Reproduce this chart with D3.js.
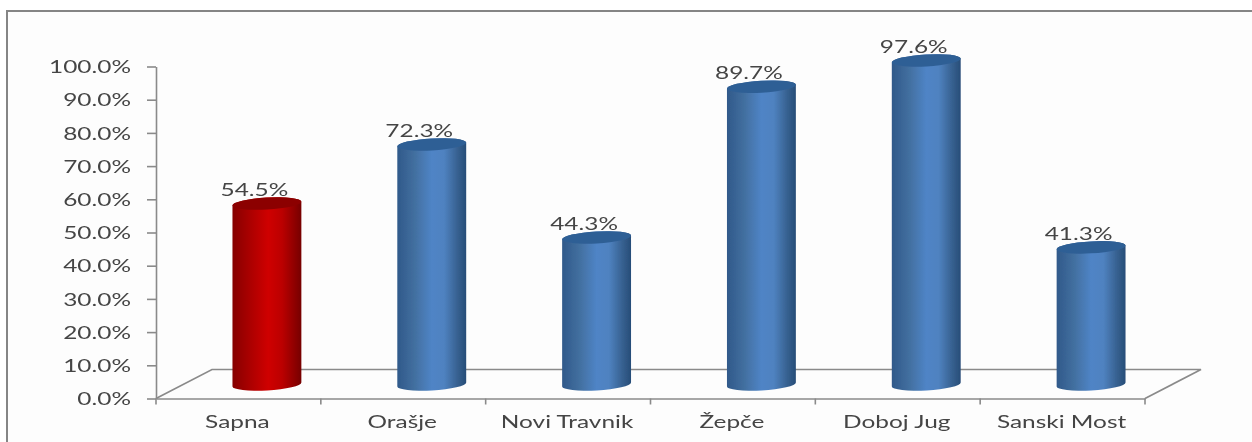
<!DOCTYPE html>
<html><head><meta charset="utf-8">
<script src="https://cdnjs.cloudflare.com/ajax/libs/d3/7.8.5/d3.min.js"></script>
<style>html,body{margin:0;padding:0;background:#fff;overflow:hidden}svg{display:block}</style>
</head><body><svg id="c" width="1252" height="442"></svg>
<script>
const categories = ["Sapna","Orašje","Novi Travnik","Žepče","Doboj Jug","Sanski Most"];
const seriesValues = [54.5,72.3,44.3,89.7,97.6,41.3];
const highlighted = ["Sapna"];
const yTicks = [0,10,20,30,40,50,60,70,80,90,100];

const svg = d3.select("#c");
const FONT = "Lato, 'Open Sans', sans-serif", INK = "#454545", AXIS = "#8a8a8a";
const STRETCH = 1.48, SIZE = 16.5;
const x0 = 156, x1 = 1145, yBase = 398.5, yTop = 66.5;
const depthX = 56, depthY = 29;

const x = d3.scaleBand().domain(categories).range([x0,x1]);
const y = d3.scaleLinear().domain([0,100]).range([yBase,yTop]);

const defs = svg.append("defs");
function grad(id, stops){
  const g = defs.append("linearGradient").attr("id",id).attr("x1","0").attr("x2","1").attr("y1","0").attr("y2","0");
  stops.forEach(s=>g.append("stop").attr("offset",s[0]).attr("stop-color",s[1]));
}
grad("blue",[[0,"#30598a"],[.25,"#426f9f"],[.5,"#4f84c6"],[.68,"#4f82c0"],[.88,"#36608f"],[1,"#274d78"]]);
grad("red",[[0,"#860000"],[.25,"#aa0000"],[.52,"#cf0000"],[.72,"#bb0000"],[.9,"#8f0000"],[1,"#760000"]]);
defs.append("filter").attr("id","soft").append("feGaussianBlur").attr("stdDeviation",0.45);

// frame
svg.append("rect").attr("width",1252).attr("height",442).attr("fill","#fff");
svg.append("rect").attr("x",7).attr("y",11).attr("width",1260).attr("height",445)
  .attr("fill","#fdfdfd").attr("stroke","#858585").attr("stroke-width",2);

const root = svg.append("g").attr("filter","url(#soft)");

// floor
root.append("path")
  .attr("d",`M${x0},${yBase}L${x0+depthX},${yBase-depthY}L${x1+depthX},${yBase-depthY}L${x1},${yBase}`)
  .attr("fill","none").attr("stroke",AXIS).attr("stroke-width",1.6);

// axes
const yAxis = root.append("g").attr("transform",`translate(${x0},0)`)
  .call(d3.axisLeft(y).tickValues(yTicks).tickSize(9).tickSizeOuter(0).tickFormat(d=>d3.format(".1f")(d)+"%"));
yAxis.selectAll("text")
  .attr("x",null).attr("dy",null).attr("y",null)
  .attr("text-anchor","end").attr("dominant-baseline","central")
  .attr("transform",`translate(-25,-0.5) scale(${STRETCH},1)`);
const tickPos = categories.map(c=>x(c)).concat([x1]);
const xAxis = root.append("g").attr("transform",`translate(0,${yBase})`)
  .call(d3.axisBottom(x).tickSize(0).tickPadding(0));
xAxis.selectAll("text")
  .attr("y",null).attr("dy",null).attr("text-anchor","middle")
  .attr("transform",`translate(-1,29.5) scale(${STRETCH},1)`);
xAxis.selectAll(".tickmark").data(tickPos).enter().append("line").attr("class","tickmark")
  .attr("x1",d=>d).attr("x2",d=>d).attr("y1",0).attr("y2",6);
[yAxis,xAxis].forEach(a=>{
  a.attr("font-family",FONT).attr("font-size",SIZE);
  a.selectAll("text").attr("fill",INK);
  a.selectAll("line,path").attr("stroke",AXIS).attr("stroke-width",1.6);
});

// cylinders
const rx = 34.5, ry = 6, tilt = -3.2, rad = tilt*Math.PI/180;
const ex = rx*Math.cos(rad), ey = rx*Math.sin(rad);
const baseOffset = 14;
const cx = c => x(c)+x.bandwidth()/2+depthX/2+0.5;
const cyTop = v => y(v)-baseOffset, cyBot = () => y(0)-baseOffset;
const isHi = c => highlighted.includes(c);

const bars = root.append("g").selectAll("g").data(categories.map((c,i)=>({c,v:seriesValues[i]}))).enter().append("g");
bars.append("path").attr("fill",d=>isHi(d.c)?"url(#red)":"url(#blue)")
  .attr("d",d=>{
    const X=cx(d.c), T=cyTop(d.v), B=cyBot();
    return `M${X-ex},${T-ey}L${X-ex},${B-ey}A${rx},${ry} ${tilt} 0 0 ${X+ex},${B+ey}L${X+ex},${T+ey}A${rx},${ry} ${tilt} 0 0 ${X-ex},${T-ey}Z`;
  });
bars.append("ellipse").attr("rx",rx).attr("ry",ry)
  .attr("transform",d=>`translate(${cx(d.c)},${cyTop(d.v)}) rotate(${tilt})`)
  .attr("fill",d=>isHi(d.c)?"#8c0000":"#2f5f95");
bars.append("text").text(d=>d3.format(".1f")(d.v)+"%")
  .attr("font-family",FONT).attr("font-size",SIZE).attr("fill",INK).attr("text-anchor","middle")
  .attr("transform",d=>`translate(${cx(d.c)-12.5},${cyTop(d.v)-7.5}) scale(${STRETCH},1)`);
</script></body></html>
